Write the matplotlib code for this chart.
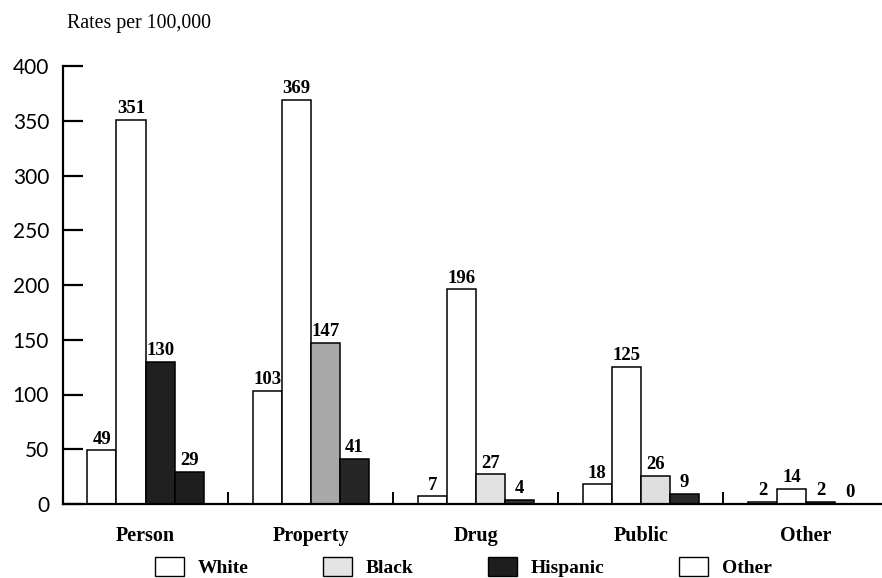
import numpy as np
import matplotlib.pyplot as plt
from matplotlib.patches import Patch

# offense categories and rates per 100,000
offenses = ["Person", "Property", "Drug", "Public", "Other"]
races = ["White", "Black", "Hispanic", "Other"]
white = [49, 103, 7, 18, 2]
black = [351, 369, 196, 125, 14]
hispanic = [130, 147, 27, 26, 2]
other = [29, 41, 4, 9, 0]
y_ticks = [0, 50, 100, 150, 200, 250, 300, 350, 400]

series = [white, black, hispanic, other]

# fills as they look in the scanned original (per bar, per group)
bar_fills = [
    ["white", "white", "white", "white", "#d8d8d8"],
    ["white", "white", "white", "white", "white"],
    ["#202020", "#a8a8a8", "#e2e2e2", "#dedede", "#303030"],
    ["#1e1e1e", "#262626", "#333333", "#2a2a2a", "#ffffff"],
]
legend_fills = ["white", "#e4e4e4", "#1e1e1e", "white"]

serif = ["Liberation Serif", "DejaVu Serif"]

fig = plt.figure(figsize=(8.82, 5.78), dpi=100)
ax = fig.add_axes([63 / 882, 1 - 504 / 578, 1 - 63 / 882, (504 - 66) / 578])

x = np.arange(len(offenses))
width = 0.176
offsets = (np.arange(4) - 1.5) * width

for i, vals in enumerate(series):
    bars = ax.bar(x + offsets[i], vals, width, color=bar_fills[i],
                  edgecolor="black", linewidth=1.1, zorder=2)
    for b, v in zip(bars, vals):
        ax.annotate(str(v), (b.get_x() + b.get_width() / 2, v),
                    xytext=(0, 2), textcoords="offset points",
                    ha="center", va="bottom", fontsize=13.5,
                    fontweight="bold", family=serif)

ax.set_xlim(-0.5, 4.46)
ax.set_ylim(0, 400)

for s in ["top", "right"]:
    ax.spines[s].set_visible(False)
for s in ["left", "bottom"]:
    ax.spines[s].set_linewidth(1.6)

ax.set_yticks(y_ticks)
ax.set_yticklabels([str(t) for t in y_ticks], family="Lato", fontsize=15)
ax.tick_params(axis="y", direction="in", length=14.5, width=1.6, pad=10)

ax.set_xticks(x)
ax.set_xticklabels(offenses, family=serif, fontsize=14.5, fontweight="bold")
ax.tick_params(axis="x", which="major", length=0, pad=16)
ax.set_xticks(x[:-1] + 0.5, minor=True)
ax.tick_params(axis="x", which="minor", direction="in", length=8.5, width=1.4)

fig.text(67 / 882, 1 - 28 / 578, "Rates per 100,000", family=serif,
         fontsize=14.3, va="baseline", ha="left")

handles = [Patch(facecolor=c, edgecolor="black", linewidth=1.0) for c in legend_fills]
fig.legend(handles, races, ncol=4, loc="center left",
           bbox_to_anchor=(155 / 882, 1 - 567 / 578), frameon=False,
           prop={"family": serif, "size": 14, "weight": "bold"},
           handlelength=1.5, handleheight=1.15, handletextpad=0.72,
           columnspacing=3.8, borderpad=0, borderaxespad=0)

fig.savefig("out.png", dpi=100)
